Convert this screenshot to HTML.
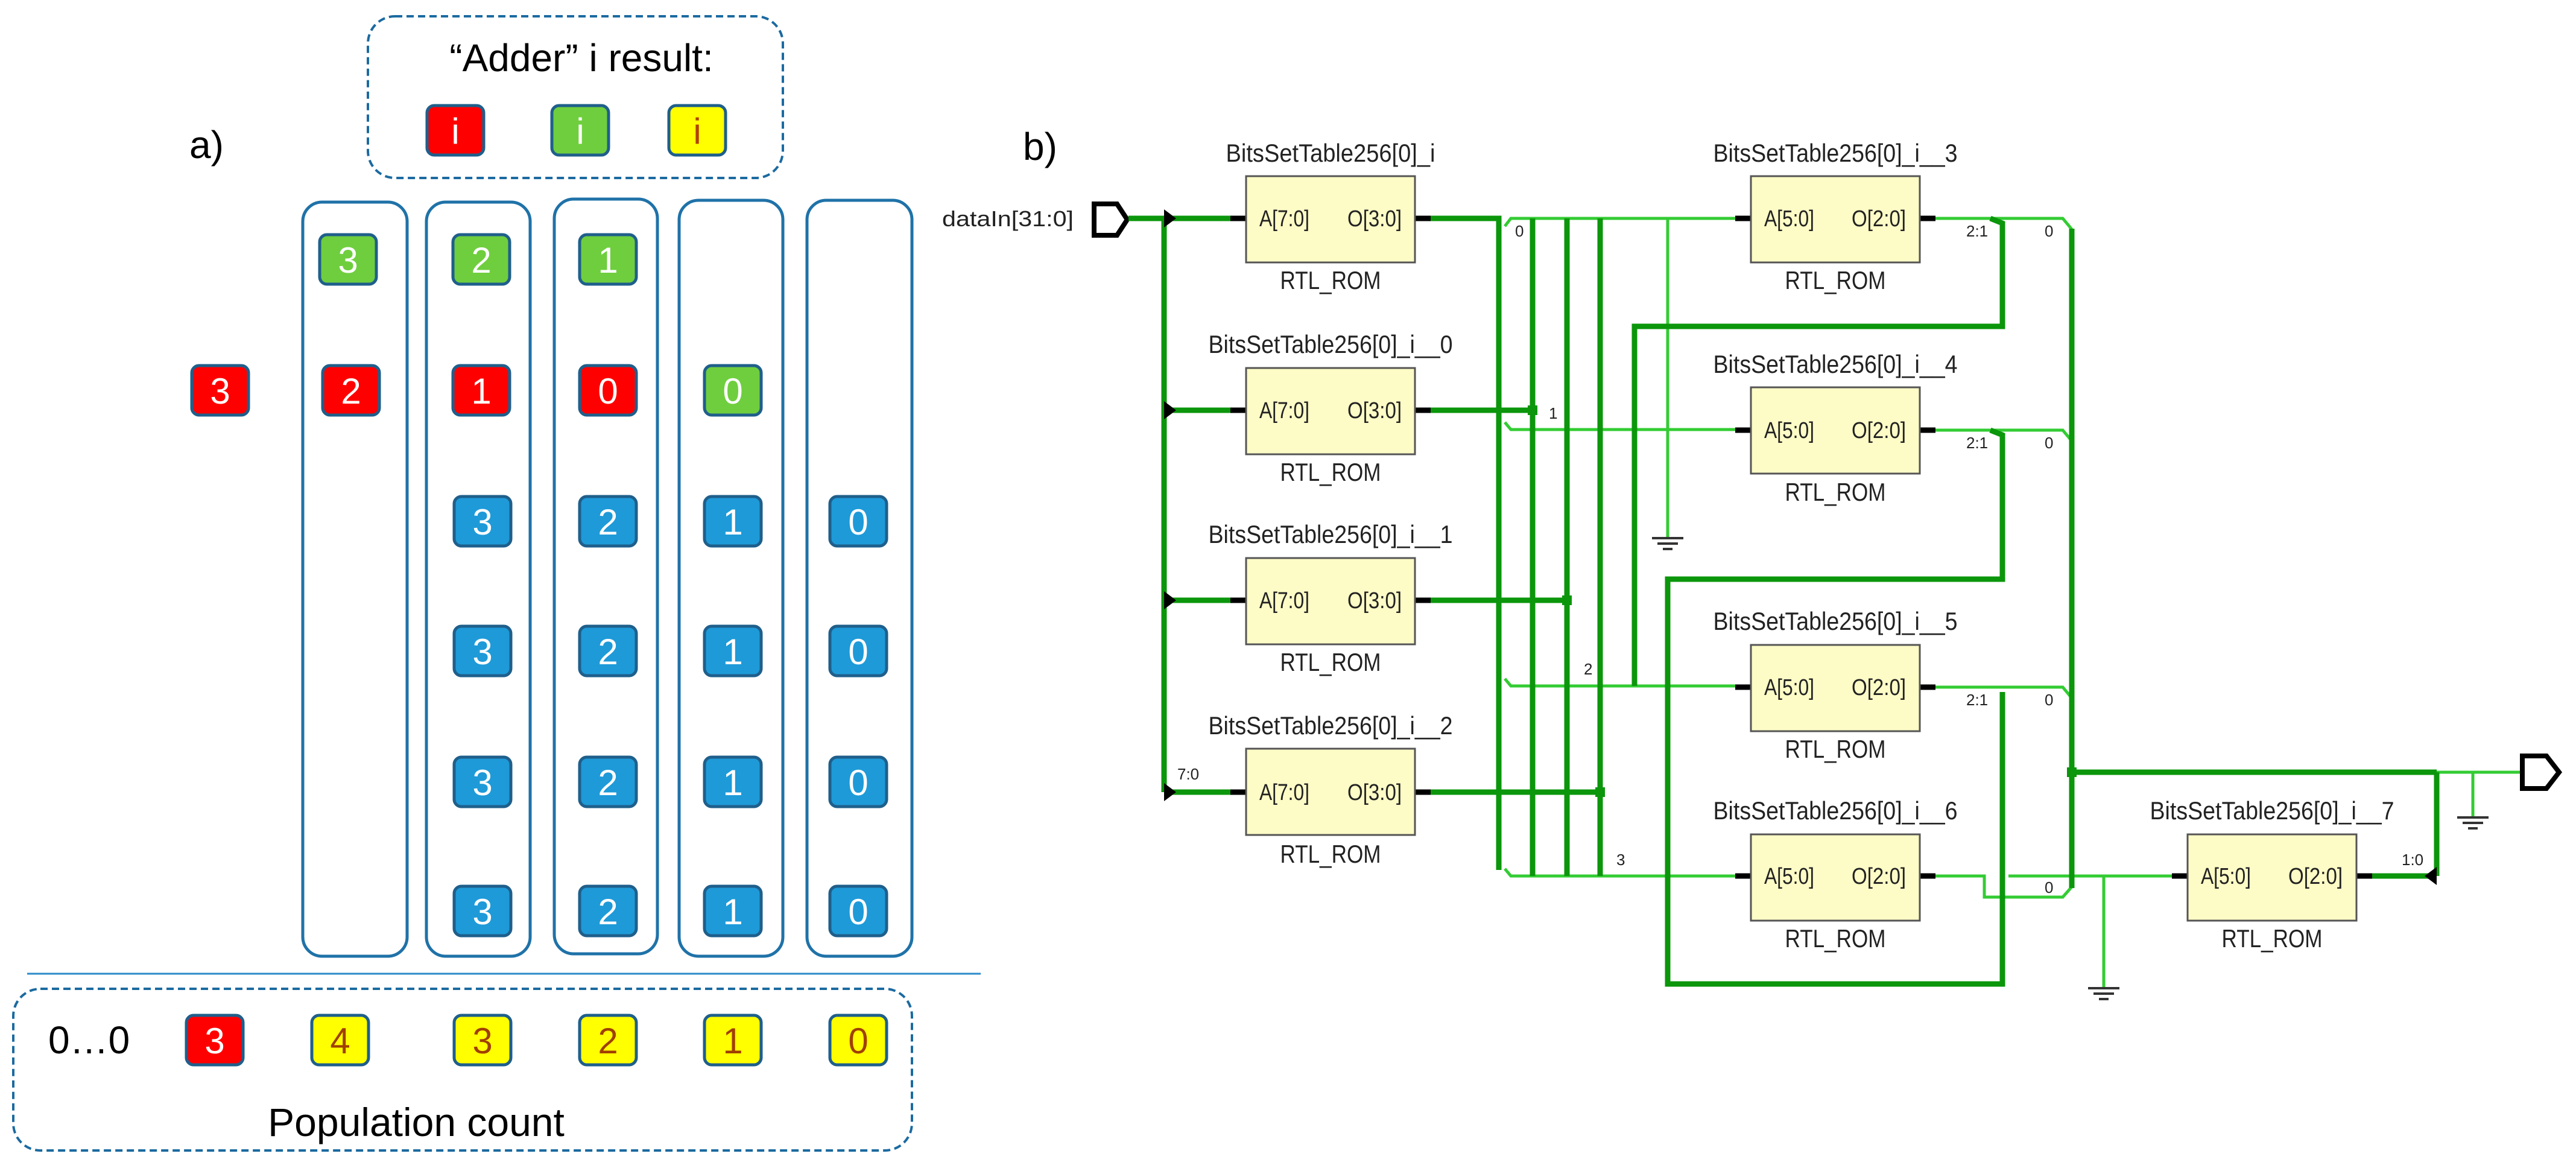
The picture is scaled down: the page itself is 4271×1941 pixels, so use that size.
<!DOCTYPE html>
<html><head><meta charset="utf-8"><style>
html,body{margin:0;padding:0;background:#fff;}
svg{display:block;}
</style></head><body>
<svg width="4271" height="1941" viewBox="0 0 4271 1941" xmlns="http://www.w3.org/2000/svg" font-family="Liberation Sans, sans-serif">
<defs>
<g id="gnd"><line x1="-26" y1="0" x2="26" y2="0" stroke="#333" stroke-width="4"/><line x1="-17" y1="9" x2="17" y2="9" stroke="#333" stroke-width="4"/><line x1="-8" y1="18" x2="8" y2="18" stroke="#333" stroke-width="4"/></g>
</defs>
<!-- ===== Panel a ===== -->
<text x="314" y="262" font-size="64" fill="#000">a)</text>
<rect x="610" y="27" width="688" height="268" rx="45" fill="none" stroke="#1b6aa0" stroke-width="4" stroke-dasharray="12,7"/>
<text x="964" y="118" font-size="64" text-anchor="middle" fill="#000">“Adder” i result:</text>
<g stroke="#1f5f8b" stroke-width="5">
<rect x="708" y="175" width="94" height="82" rx="12" fill="#ff0000"/>
<rect x="915" y="175" width="94" height="82" rx="12" fill="#6fce3e"/>
<rect x="1109" y="175" width="94" height="82" rx="12" fill="#ffff00"/>
</g>
<g font-size="60" text-anchor="middle">
<text x="755" y="238" fill="#fff">i</text>
<text x="962" y="238" fill="#fff">i</text>
<text x="1156" y="238" fill="#b04000">i</text>
</g>
<!-- columns -->
<g fill="none" stroke="#1f72a8" stroke-width="5">
<rect x="502" y="335" width="173" height="1250" rx="32"/>
<rect x="707" y="335" width="172" height="1250" rx="32"/>
<rect x="919" y="330" width="171" height="1251" rx="32"/>
<rect x="1126" y="332" width="172" height="1253" rx="32"/>
<rect x="1338" y="332" width="174" height="1253" rx="32"/>
</g>
<g stroke="#1f5f8b" stroke-width="5">
<!-- green row -->
<rect x="530" y="389" width="94" height="82" rx="12" fill="#6fce3e"/>
<rect x="751" y="389" width="94" height="82" rx="12" fill="#6fce3e"/>
<rect x="961" y="389" width="94" height="82" rx="12" fill="#6fce3e"/>
<!-- red row -->
<rect x="318" y="606" width="94" height="82" rx="12" fill="#ff0000"/>
<rect x="535" y="606" width="94" height="82" rx="12" fill="#ff0000"/>
<rect x="751" y="606" width="94" height="82" rx="12" fill="#ff0000"/>
<rect x="961" y="606" width="94" height="82" rx="12" fill="#ff0000"/>
<rect x="1168" y="606" width="94" height="82" rx="12" fill="#6fce3e"/>
</g>
<g font-size="60" text-anchor="middle" fill="#fff">
<text x="577" y="452">3</text><text x="798" y="452">2</text><text x="1008" y="452">1</text>
<text x="365" y="669">3</text><text x="582" y="669">2</text><text x="798" y="669">1</text><text x="1008" y="669">0</text><text x="1215" y="669">0</text>
</g>
<!-- blue rows -->
<g stroke="#1f5f8b" stroke-width="5" fill="#1e9ad8">
<rect x="753" y="823" width="94" height="82" rx="12"/><rect x="961" y="823" width="94" height="82" rx="12"/><rect x="1168" y="823" width="94" height="82" rx="12"/><rect x="1376" y="823" width="94" height="82" rx="12"/>
<rect x="753" y="1038" width="94" height="82" rx="12"/><rect x="961" y="1038" width="94" height="82" rx="12"/><rect x="1168" y="1038" width="94" height="82" rx="12"/><rect x="1376" y="1038" width="94" height="82" rx="12"/>
<rect x="753" y="1255" width="94" height="82" rx="12"/><rect x="961" y="1255" width="94" height="82" rx="12"/><rect x="1168" y="1255" width="94" height="82" rx="12"/><rect x="1376" y="1255" width="94" height="82" rx="12"/>
<rect x="753" y="1469" width="94" height="82" rx="12"/><rect x="961" y="1469" width="94" height="82" rx="12"/><rect x="1168" y="1469" width="94" height="82" rx="12"/><rect x="1376" y="1469" width="94" height="82" rx="12"/>
</g>
<g font-size="60" text-anchor="middle" fill="#fff">
<text x="800" y="886">3</text><text x="1008" y="886">2</text><text x="1215" y="886">1</text><text x="1423" y="886">0</text>
<text x="800" y="1101">3</text><text x="1008" y="1101">2</text><text x="1215" y="1101">1</text><text x="1423" y="1101">0</text>
<text x="800" y="1318">3</text><text x="1008" y="1318">2</text><text x="1215" y="1318">1</text><text x="1423" y="1318">0</text>
<text x="800" y="1532">3</text><text x="1008" y="1532">2</text><text x="1215" y="1532">1</text><text x="1423" y="1532">0</text>
</g>
<line x1="45" y1="1614" x2="1626" y2="1614" stroke="#2a8ac8" stroke-width="3"/>
<rect x="22" y="1639" width="1490" height="268" rx="45" fill="none" stroke="#1b6aa0" stroke-width="4" stroke-dasharray="12,7"/>
<text x="80" y="1746" font-size="64" fill="#000">0…0</text>
<g stroke="#1f5f8b" stroke-width="5">
<rect x="309" y="1683" width="94" height="82" rx="12" fill="#ff0000"/>
<rect x="517" y="1683" width="94" height="82" rx="12" fill="#ffff00"/>
<rect x="753" y="1683" width="94" height="82" rx="12" fill="#ffff00"/>
<rect x="961" y="1683" width="94" height="82" rx="12" fill="#ffff00"/>
<rect x="1168" y="1683" width="94" height="82" rx="12" fill="#ffff00"/>
<rect x="1376" y="1683" width="94" height="82" rx="12" fill="#ffff00"/>
</g>
<g font-size="60" text-anchor="middle">
<text x="356" y="1746" fill="#fff">3</text>
<g fill="#a04000"><text x="564" y="1746">4</text><text x="800" y="1746">3</text><text x="1008" y="1746">2</text><text x="1215" y="1746">1</text><text x="1423" y="1746">0</text></g>
</g>
<text x="690" y="1883" font-size="66" text-anchor="middle" fill="#000">Population count</text>

<!-- ===== Panel b ===== -->
<text x="1696" y="265" font-size="64" fill="#000">b)</text>
<text x="1780" y="375" font-size="36" text-anchor="end" fill="#222" textLength="218" lengthAdjust="spacingAndGlyphs">dataIn[31:0]</text>
<polygon points="1814,338 1852,338 1869,364 1852,390 1814,390" fill="#fff" stroke="#000" stroke-width="8"/>

<!-- thin wires -->
<g stroke="#33cc33" stroke-width="5" fill="none">
<polyline points="2495,375 2505,362 2877,362"/>
<polyline points="2495,700 2505,712 2877,712"/>
<polyline points="2495,1125 2505,1137 2877,1137"/>
<polyline points="2495,1440 2505,1452 2877,1452"/>
<line x1="2765" y1="362" x2="2765" y2="890"/>
<polyline points="3209,362 3420,362 3435,380"/>
<polyline points="3209,713 3420,713 3435,731"/>
<polyline points="3209,1139 3420,1139 3435,1157"/>
<polyline points="3209,1452 3290,1452 3290,1487 3420,1487 3435,1470"/>
<line x1="3330" y1="1452" x2="3601" y2="1452"/>
<line x1="3488" y1="1452" x2="3488" y2="1636"/>
<line x1="4040" y1="1280" x2="4180" y2="1280"/>
<line x1="4100" y1="1280" x2="4100" y2="1353"/>
</g>
<use href="#gnd" x="2765" y="892"/>
<use href="#gnd" x="3488" y="1638"/>
<use href="#gnd" x="4100" y="1355"/>

<!-- thick wires -->
<g stroke="#0b960b" stroke-width="9" fill="none">
<line x1="1871" y1="362" x2="2040" y2="362"/>
<line x1="1930" y1="362" x2="1930" y2="1313"/>
<line x1="1930" y1="680" x2="2040" y2="680"/>
<line x1="1930" y1="995" x2="2040" y2="995"/>
<line x1="1930" y1="1313" x2="2040" y2="1313"/>
<polyline points="2372,362 2485,362 2485,1442"/>
<line x1="2372" y1="680" x2="2541" y2="680"/>
<line x1="2541" y1="362" x2="2541" y2="1452"/>
<line x1="2372" y1="995" x2="2598" y2="995"/>
<line x1="2598" y1="362" x2="2598" y2="1452"/>
<line x1="2372" y1="1313" x2="2653" y2="1313"/>
<line x1="2653" y1="362" x2="2653" y2="1452"/>
<polyline points="3300,362 3320,370 3320,541 2710,541 2710,1137"/>
<polyline points="3300,713 3320,721 3320,960 2765,960 2765,1631 3320,1631 3320,1147"/>
<line x1="3435" y1="379" x2="3435" y2="1472"/>
<line x1="3435" y1="1280" x2="4040" y2="1280"/>
<line x1="4040" y1="1280" x2="4040" y2="1452"/>
<line x1="3933" y1="1452" x2="4040" y2="1452"/>
</g>
<g fill="#0b960b">
<rect x="2533" y="672" width="16" height="16"/>
<rect x="2590" y="987" width="16" height="16"/>
<rect x="2645" y="1305" width="16" height="16"/>
<rect x="3427" y="1272" width="16" height="16"/>
</g>
<!-- arrows at bus -->
<g fill="#000">
<polygon points="1930,347 1950,362 1930,377"/>
<polygon points="1930,665 1950,680 1930,695"/>
<polygon points="1930,980 1950,995 1930,1010"/>
<polygon points="1930,1298 1950,1313 1930,1328"/>
<polygon points="4040,1437 4020,1452 4040,1467"/>
</g>
<polygon points="4182,1253 4222,1253 4243,1280 4222,1307 4182,1307" fill="#fff" stroke="#000" stroke-width="8"/>

<!-- ROM boxes -->
<g stroke="#000" stroke-width="9">
<line x1="2040" y1="362" x2="2066" y2="362"/><line x1="2346" y1="362" x2="2372" y2="362"/>
<line x1="2040" y1="680" x2="2066" y2="680"/><line x1="2346" y1="680" x2="2372" y2="680"/>
<line x1="2040" y1="995" x2="2066" y2="995"/><line x1="2346" y1="995" x2="2372" y2="995"/>
<line x1="2040" y1="1313" x2="2066" y2="1313"/><line x1="2346" y1="1313" x2="2372" y2="1313"/>
<line x1="2877" y1="362" x2="2903" y2="362"/><line x1="3183" y1="362" x2="3209" y2="362"/>
<line x1="2877" y1="713" x2="2903" y2="713"/><line x1="3183" y1="713" x2="3209" y2="713"/>
<line x1="2877" y1="1139" x2="2903" y2="1139"/><line x1="3183" y1="1139" x2="3209" y2="1139"/>
<line x1="2877" y1="1452" x2="2903" y2="1452"/><line x1="3183" y1="1452" x2="3209" y2="1452"/>
<line x1="3601" y1="1452" x2="3627" y2="1452"/><line x1="3907" y1="1452" x2="3933" y2="1452"/>
</g>
<g fill="#fdfbc6" stroke="#555" stroke-width="3">
<rect x="2066" y="292" width="280" height="143"/>
<rect x="2066" y="610" width="280" height="143"/>
<rect x="2066" y="925" width="280" height="143"/>
<rect x="2066" y="1241" width="280" height="143"/>
<rect x="2903" y="292" width="280" height="143"/>
<rect x="2903" y="642" width="280" height="143"/>
<rect x="2903" y="1069" width="280" height="143"/>
<rect x="2903" y="1383" width="280" height="143"/>
<rect x="3627" y="1383" width="280" height="143"/>
</g>
<g font-size="38" fill="#222">
<text x="2088" y="375" textLength="83" lengthAdjust="spacingAndGlyphs">A[7:0]</text><text x="2234" y="375" textLength="90" lengthAdjust="spacingAndGlyphs">O[3:0]</text>
<text x="2088" y="693" textLength="83" lengthAdjust="spacingAndGlyphs">A[7:0]</text><text x="2234" y="693" textLength="90" lengthAdjust="spacingAndGlyphs">O[3:0]</text>
<text x="2088" y="1008" textLength="83" lengthAdjust="spacingAndGlyphs">A[7:0]</text><text x="2234" y="1008" textLength="90" lengthAdjust="spacingAndGlyphs">O[3:0]</text>
<text x="2088" y="1326" textLength="83" lengthAdjust="spacingAndGlyphs">A[7:0]</text><text x="2234" y="1326" textLength="90" lengthAdjust="spacingAndGlyphs">O[3:0]</text>
<text x="2925" y="375" textLength="83" lengthAdjust="spacingAndGlyphs">A[5:0]</text><text x="3070" y="375" textLength="90" lengthAdjust="spacingAndGlyphs">O[2:0]</text>
<text x="2925" y="726" textLength="83" lengthAdjust="spacingAndGlyphs">A[5:0]</text><text x="3070" y="726" textLength="90" lengthAdjust="spacingAndGlyphs">O[2:0]</text>
<text x="2925" y="1152" textLength="83" lengthAdjust="spacingAndGlyphs">A[5:0]</text><text x="3070" y="1152" textLength="90" lengthAdjust="spacingAndGlyphs">O[2:0]</text>
<text x="2925" y="1465" textLength="83" lengthAdjust="spacingAndGlyphs">A[5:0]</text><text x="3070" y="1465" textLength="90" lengthAdjust="spacingAndGlyphs">O[2:0]</text>
<text x="3649" y="1465" textLength="83" lengthAdjust="spacingAndGlyphs">A[5:0]</text><text x="3794" y="1465" textLength="90" lengthAdjust="spacingAndGlyphs">O[2:0]</text>
</g>
<g font-size="42" fill="#222" text-anchor="middle">
<text x="2206" y="268" textLength="347" lengthAdjust="spacingAndGlyphs">BitsSetTable256[0]_i</text>
<text x="2206" y="585" textLength="405" lengthAdjust="spacingAndGlyphs">BitsSetTable256[0]_i__0</text>
<text x="2206" y="900" textLength="405" lengthAdjust="spacingAndGlyphs">BitsSetTable256[0]_i__1</text>
<text x="2206" y="1217" textLength="405" lengthAdjust="spacingAndGlyphs">BitsSetTable256[0]_i__2</text>
<text x="3043" y="268" textLength="405" lengthAdjust="spacingAndGlyphs">BitsSetTable256[0]_i__3</text>
<text x="3043" y="618" textLength="405" lengthAdjust="spacingAndGlyphs">BitsSetTable256[0]_i__4</text>
<text x="3043" y="1044" textLength="405" lengthAdjust="spacingAndGlyphs">BitsSetTable256[0]_i__5</text>
<text x="3043" y="1358" textLength="405" lengthAdjust="spacingAndGlyphs">BitsSetTable256[0]_i__6</text>
<text x="3767" y="1358" textLength="405" lengthAdjust="spacingAndGlyphs">BitsSetTable256[0]_i__7</text>
<text x="2206" y="479" textLength="167" lengthAdjust="spacingAndGlyphs">RTL_ROM</text>
<text x="2206" y="797" textLength="167" lengthAdjust="spacingAndGlyphs">RTL_ROM</text>
<text x="2206" y="1112" textLength="167" lengthAdjust="spacingAndGlyphs">RTL_ROM</text>
<text x="2206" y="1430" textLength="167" lengthAdjust="spacingAndGlyphs">RTL_ROM</text>
<text x="3043" y="479" textLength="167" lengthAdjust="spacingAndGlyphs">RTL_ROM</text>
<text x="3043" y="830" textLength="167" lengthAdjust="spacingAndGlyphs">RTL_ROM</text>
<text x="3043" y="1256" textLength="167" lengthAdjust="spacingAndGlyphs">RTL_ROM</text>
<text x="3043" y="1570" textLength="167" lengthAdjust="spacingAndGlyphs">RTL_ROM</text>
<text x="3767" y="1570" textLength="167" lengthAdjust="spacingAndGlyphs">RTL_ROM</text>
</g>
<g font-size="26" fill="#222">
<text x="2512" y="392">0</text><text x="2568" y="694">1</text><text x="2626" y="1118">2</text><text x="2680" y="1434">3</text>
<text x="1952" y="1292">7:0</text>
<text x="3260" y="392">2:1</text><text x="3390" y="392">0</text>
<text x="3260" y="743">2:1</text><text x="3390" y="743">0</text>
<text x="3260" y="1169">2:1</text><text x="3390" y="1169">0</text>
<text x="3390" y="1480">0</text>
<text x="3982" y="1434">1:0</text>
</g>
</svg>
</body></html>
